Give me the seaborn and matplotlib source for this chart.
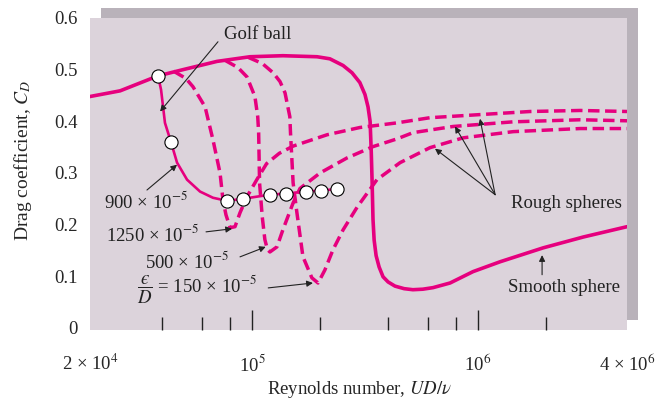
import pandas as pd
import seaborn as sns
import matplotlib.pyplot as plt
from matplotlib.patches import Rectangle

# Drag coefficient vs Reynolds number
smooth_re = [1.92e4, 2.61e4, 3.84e4, 4.95e4, 7.0e4, 9.8e4, 1.37e5, 1.94e5, 2.21e5,
             2.53e5, 2.77e5, 3.0e5, 3.16e5, 3.26e5, 3.33e5, 3.37e5, 3.40e5, 3.43e5,
             3.47e5, 3.54e5, 3.65e5, 3.8e5, 4.0e5, 4.29e5, 4.71e5, 5.15e5, 5.7e5,
             6.32e5, 7.52e5, 9.5e5, 1.25e6, 1.94e6, 2.92e6, 4.56e6]
smooth_cd = [0.448, 0.459, 0.488, 0.500, 0.516, 0.525, 0.527, 0.525, 0.521,
             0.508, 0.494, 0.475, 0.452, 0.428, 0.400, 0.340, 0.281, 0.210,
             0.170, 0.140, 0.118, 0.099, 0.089, 0.081, 0.076, 0.074, 0.075,
             0.078, 0.087, 0.109, 0.128, 0.155, 0.176, 0.196]

golf_re = [3.84e4, 3.96e4, 4.12e4, 4.38e4, 4.66e4, 5.16e4, 5.89e4, 6.72e4, 7.75e4,
           9.12e4, 1.20e5, 1.41e5, 1.73e5, 2.02e5, 2.38e5]
golf_cd = [0.488, 0.461, 0.397, 0.360, 0.320, 0.287, 0.264, 0.252, 0.246,
           0.250, 0.258, 0.260, 0.264, 0.266, 0.269]
# measured golf-ball points (open circles)
golf_pts_re = [3.84e4, 4.38e4, 7.75e4, 9.12e4, 1.20e5, 1.41e5, 1.73e5, 2.02e5, 2.38e5]
golf_pts_cd = [0.488, 0.360, 0.246, 0.250, 0.258, 0.260, 0.264, 0.266, 0.269]

# rough spheres, eps/D = 1250e-5, 500e-5, 150e-5
rough1250_re = [4.5e4, 5.1e4, 5.48e4, 6.2e4, 6.72e4, 7.22e4, 7.44e4, 7.67e4, 8.0e4, 8.41e4,
                8.85e4, 9.5e4, 1.05e5, 1.16e5, 1.32e5, 1.52e5, 2.15e5, 3.0e5, 4.38e5, 6.13e5,
                1.02e6, 1.70e6, 2.83e6, 4.56e6]
rough1250_cd = [0.497, 0.483, 0.467, 0.428, 0.364, 0.300, 0.248, 0.219, 0.194, 0.196,
                0.223, 0.254, 0.287, 0.318, 0.338, 0.352, 0.374, 0.388, 0.397, 0.407,
                0.413, 0.419, 0.421, 0.419]

rough500_re = [7.6e4, 8.67e4, 9.5e4, 1.03e5, 1.06e5, 1.07e5, 1.08e5, 1.11e5, 1.14e5, 1.17e5,
               1.20e5, 1.29e5, 1.37e5, 1.52e5, 1.63e5, 2.0e5, 2.63e5, 3.43e5, 4.38e5, 5.15e5,
               7.75e5, 1.43e6, 2.83e6, 4.56e6]
rough500_cd = [0.518, 0.504, 0.486, 0.448, 0.409, 0.378, 0.281, 0.215, 0.171, 0.152,
               0.147, 0.157, 0.190, 0.242, 0.270, 0.300, 0.329, 0.351, 0.366, 0.378,
               0.390, 0.399, 0.403, 0.401]

rough150_re = [9.6e4, 1.11e5, 1.24e5, 1.33e5, 1.40e5, 1.47e5, 1.48e5, 1.52e5, 1.58e5, 1.68e5,
               1.84e5, 1.96e5, 2.10e5, 2.28e5, 2.53e5, 2.92e5, 3.57e5, 4.52e5, 6.13e5, 8.59e5,
               1.43e6, 2.83e6, 4.56e6]
rough150_cd = [0.524, 0.512, 0.494, 0.477, 0.455, 0.409, 0.378, 0.281, 0.223, 0.138,
               0.097, 0.087, 0.112, 0.151, 0.190, 0.234, 0.287, 0.320, 0.349, 0.368,
               0.380, 0.386, 0.386]

x_major = [1e5, 1e6]
x_major_labels = [r'10$^5$', r'10$^6$']
x_minor = [4e4, 6e4, 8e4, 2e5, 4e5, 6e5, 8e5, 2e6]
x_end_labels = [r'2 × 10$^4$', r'4 × 10$^6$']
y_ticks = [0, 0.1, 0.2, 0.3, 0.4, 0.5, 0.6]
y_tick_labels = ['0', '0.1', '0.2', '0.3', '0.4', '0.5', '0.6']
y_marks = [0.1, 0.2, 0.3, 0.4, 0.5]

PINK = '#e6007e'
BG = '#dcd3db'
SHADOW = '#b9b2ba'
INK = '#222222'

sns.set_theme(style='white')
plt.rcParams['font.family'] = ['Liberation Serif', 'DejaVu Serif']
plt.rcParams['mathtext.fontset'] = 'stix'
FS = 13.5

W, H = 666, 403
fig = plt.figure(figsize=(W / 100, H / 100), dpi=100)
ax = fig.add_axes([90 / W, 1 - 330 / H, 537 / W, 312 / H])
# offset grey "shadow" box behind the plot area
fig.add_artist(Rectangle((101 / W, 1 - 320 / H), 537 / W, 312 / H, transform=fig.transFigure,
                         facecolor=SHADOW, edgecolor='none', zorder=-1))
ax.set_facecolor(BG)
for s in ax.spines.values():
    s.set_visible(False)
ax.set_xscale('log')

dash = (0, (3.3, 1.6))
for re, cd in [(rough1250_re, rough1250_cd), (rough500_re, rough500_cd), (rough150_re, rough150_cd)]:
    sns.lineplot(x=re, y=cd, ax=ax, sort=False, estimator=None, color=PINK, lw=2.5,
                 linestyle=dash, solid_joinstyle='round', dash_joinstyle='round')
sns.lineplot(x=smooth_re, y=smooth_cd, ax=ax, sort=False, estimator=None, color=PINK, lw=2.6,
             solid_joinstyle='round')
sns.lineplot(x=golf_re, y=golf_cd, ax=ax, sort=False, estimator=None, color=PINK, lw=1.9,
             solid_joinstyle='round')
sns.scatterplot(x=golf_pts_re, y=golf_pts_cd, ax=ax, s=90, color='white',
                edgecolor='black', linewidth=0.8, zorder=5)

ax.set_xlim(1.92e4, 4.56e6)
ax.set_ylim(-0.004, 0.6)

# axis ticks: short marks inside the box
ax.set_xticks(x_major, labels=x_major_labels)
ax.set_xticks(x_minor, minor=True)
ax.tick_params(axis='x', which='major', direction='in', length=14.5, width=1, color=INK,
               pad=17, labelsize=FS, bottom=True)
ax.tick_params(axis='x', which='minor', direction='in', length=9.5, width=1, color=INK,
               bottom=True, labelbottom=False)
for xf, lab in zip([0, 1], x_end_labels):
    ax.annotate(lab, xy=(xf, 0), xycoords='axes fraction', xytext=(0, -17),
                textcoords='offset points', ha='center', va='top', fontsize=FS)
ax.set_yticks(y_ticks, labels=y_tick_labels)
ax.set_yticks(y_marks, minor=True)
ax.tick_params(axis='y', which='major', length=0, pad=8.6, labelsize=FS, left=True)
ax.tick_params(axis='y', which='minor', direction='in', length=10, width=1, color=INK, left=True)

fig.text(360 / W, 1 - 390 / H, r'Reynolds number, $UD/\nu$', ha='center', va='center', fontsize=FS)
fig.text(23 / W, 1 - 160 / H, r'Drag coefficient, $C_D$', ha='center', va='center',
         rotation=90, fontsize=FS + 0.5)

# labels and pointer arrows
arrow = dict(arrowstyle='-|>', color=INK, lw=0.8, mutation_scale=9, shrinkA=0, shrinkB=0)
labels = [
    ('Golf ball', 1.06e5, 0.568),
    (r'900 × 10$^{-5}$', 3.40e4, 0.244),
    (r'1250 × 10$^{-5}$', 3.65e4, 0.180),
    (r'500 × 10$^{-5}$', 5.16e4, 0.128),
    ('$\\dfrac{\u03f5}{D}$ = 150 × 10$^{-5}$', 5.68e4, 0.0736),
    ('Rough spheres', 2.45e6, 0.240),
    ('Smooth sphere', 2.40e6, 0.0775),
]
for txt, x, y in labels:
    ax.text(x, y, txt, ha='center', va='center', fontsize=FS, color=INK)
arrows = [
    ((7.07e4, 0.554), (3.92e4, 0.419)),
    ((3.43e4, 0.267), (4.66e4, 0.316)),
    ((6.26e4, 0.186), (8.16e4, 0.192)),
    ((8.85e4, 0.1376), (1.15e5, 0.157)),
    ((1.18e5, 0.0775), (1.86e5, 0.087)),
    ((1.19e6, 0.258), (6.45e5, 0.347)),
    ((1.19e6, 0.258), (7.91e5, 0.390)),
    ((1.19e6, 0.258), (1.02e6, 0.405)),
    ((1.92e6, 0.103), (1.92e6, 0.141)),
]
for start, end in arrows:
    ax.annotate('', xy=end, xytext=start, arrowprops=arrow)

fig.savefig('out.png', dpi=100)
